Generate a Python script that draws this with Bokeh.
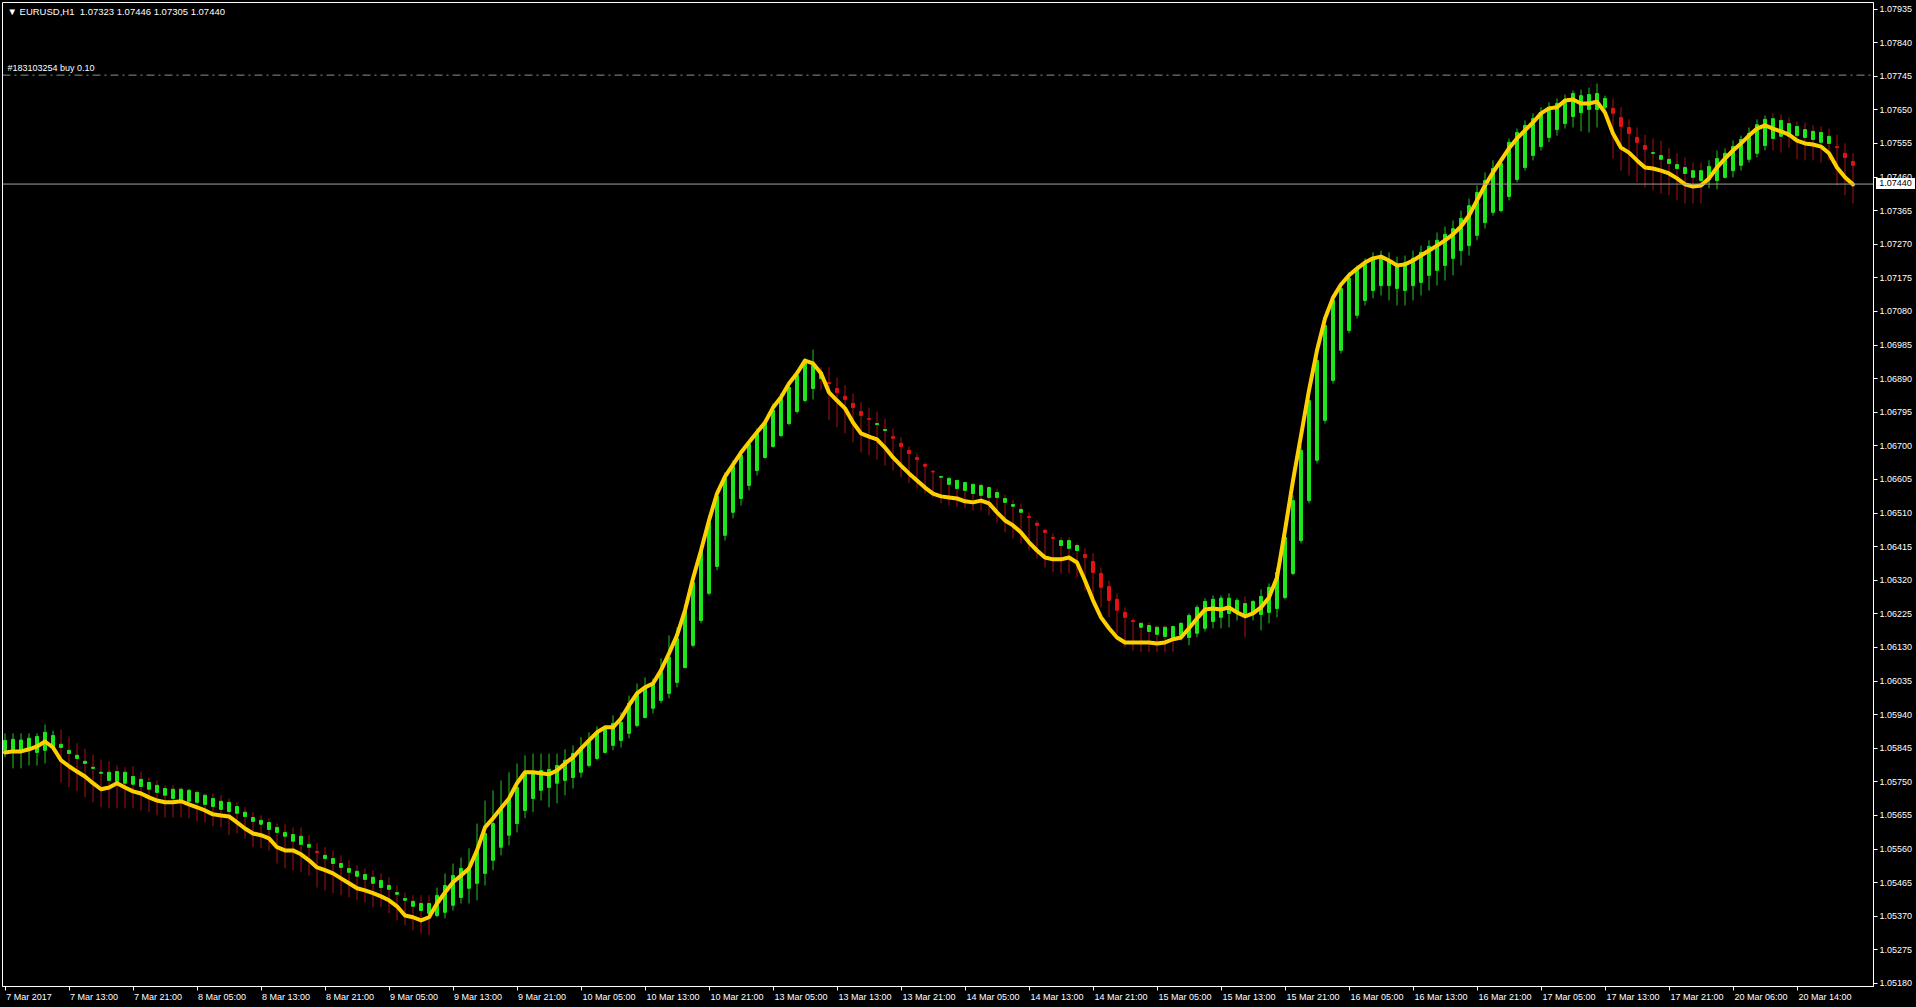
import numpy as np
from bokeh.plotting import figure
from bokeh.models import (ColumnDataSource, FixedTicker, Range1d, Label, Span, PrintfTickFormatter,
                          GlobalInlineStyleSheet, LinearAxis)
from bokeh.embed import file_html
from bokeh.resources import INLINE

# ---------------- data (prices in points, 1 point = 0.00001) ----------------
ha_open = [105839,105839,105839,105844,105833,105839,105847,105847,105830,105816,
105802,105788,105774,105754,105751,105746,105743,105737,105729,105720,
105712,105703,105700,105695,105692,105686,105680,105672,105666,105661,
105652,105638,105630,105615,105607,105596,105582,105573,105565,105553,
105533,105519,105508,105494,105483,105474,105463,105451,105446,105432,
105415,105398,105386,105378,105372,105381,105401,105423,105449,105463,
105491,105528,105565,105599,105632,105669,105703,105726,105734,105746,
105754,105762,105777,105796,105816,105833,105853,105867,105887,105909,
105932,105958,105980,106000,106031,106073,106136,106206,106283,106359,
106447,106512,106551,106588,106630,106667,106698,106729,106763,106797,
106828,106862,106890,106879,106862,106840,106820,106797,106777,106760,
106743,106726,106707,106687,106667,106647,106628,106611,106591,106579,
106574,106565,106560,106554,106554,106540,106529,106512,106500,106481,
106461,106441,106418,106410,106404,106393,106373,106339,106302,106266,
106229,106206,106187,106175,106167,106161,106158,106164,106158,106170,
106184,106203,106215,106226,106229,106226,106226,106223,106229,106240,
106271,106339,106432,106545,106659,106772,106885,106970,107026,107069,
107111,107139,107153,107153,107145,107139,107153,107162,107182,107196,
107210,107230,107252,107266,107295,107331,107360,107365,107405,107453,
107487,107521,107546,107572,107594,107611,107631,107642,107651,107651,
107657,107654,107628,107600,107572,107549,107527,107510,107498,107484,
107470,107459,107450,107453,107450,107459,107478,107493,107510,107527,
107549,107569,107575,107575,107577,107572,107566,107558,107555,107546,
107527,107504]
ha_high = [105887,105887,105887,105887,105887,105912,105895,105898,105878,105859,
105844,105827,105813,105808,105796,105791,105794,105779,105762,105754,
105740,105740,105734,105731,105726,105717,105717,105712,105703,105692,
105678,105664,105655,105647,105632,105630,105621,105621,105599,105576,
105565,105556,105542,105528,105514,105505,105500,105491,105480,105457,
105437,105429,105429,105429,105451,105491,105519,105536,105562,105632,
105697,105726,105754,105777,105802,105825,105830,105830,105830,105830,
105842,105853,105876,105890,105907,105909,105938,105946,105994,106028,
106045,106042,106099,106164,106187,106249,106328,106418,106503,106574,
106625,106659,106687,106715,106749,106772,106820,106848,106879,106913,
106947,106972,106922,106922,106893,106871,106848,106823,106808,106797,
106777,106749,106724,106698,106678,106653,106630,106616,106611,106605,
106599,106594,106594,106585,106579,106562,106548,106537,106512,106489,
106466,106452,106441,106441,106424,106410,106396,106356,106319,106283,
106243,106212,106201,106201,106192,106192,106192,106201,106226,106249,
106269,106277,106277,106283,106269,106274,106263,106294,106311,106356,
106452,106560,106701,106842,106955,107054,107122,107156,107190,107210,
107230,107247,107252,107247,107235,107238,107252,107266,107281,107303,
107320,107337,107365,107399,107436,107473,107507,107512,107569,107597,
107620,107640,107657,107671,107682,107693,107705,107707,107713,107724,
107690,107682,107657,107623,107600,107580,107569,107563,107543,107527,
107515,107501,107501,107507,107535,107541,107563,107577,107600,107623,
107634,107640,107637,107628,107617,107614,107606,107603,107597,107580,
107555,107527]
ha_low = [105819,105788,105788,105796,105796,105802,105839,105748,105734,105723,
105706,105692,105678,105675,105675,105675,105675,105669,105664,105655,
105649,105649,105649,105647,105638,105635,105624,105621,105599,105604,
105590,105565,105562,105556,105519,105505,105500,105494,105485,105451,
105443,105435,105429,105423,105415,105409,105395,105395,105378,105358,
105344,105330,105321,105316,105367,105364,105386,105406,105406,105415,
105457,105500,105542,105570,105607,105647,105664,105697,105678,105689,
105712,105731,105762,105791,105811,105830,105839,105847,105873,105904,
105929,105943,105972,105986,106017,106071,106130,106198,106277,106348,
106432,106495,106531,106574,106616,106664,106695,106724,106758,106791,
106823,106831,106857,106772,106752,106735,106710,106681,106673,106661,
106644,106630,106611,106594,106579,106565,106554,106537,106531,106526,
106523,106517,106517,106503,106483,106455,106438,106424,106404,106382,
106356,106342,106339,106339,106328,106291,106263,106243,106215,106170,
106130,106121,106116,106116,106116,106116,106116,106150,106136,106158,
106175,106184,106184,106187,106206,106158,106206,106178,106198,106215,
106266,106334,106424,106537,106650,106763,106876,106961,107018,107060,
107097,107117,107125,107111,107097,107097,107111,107125,107139,107153,
107167,107182,107210,107238,107281,107314,107351,107360,107394,107445,
107478,107507,107535,107558,107577,107597,107600,107589,107586,107600,
107640,107512,107478,107464,107445,107430,107422,107413,107408,107394,
107385,107385,107385,107428,107425,107456,107459,107478,107501,107515,
107535,107535,107529,107543,107510,107507,107507,107501,107507,107436,
107408,107385]
ha_close = [105867,105870,105868,105873,105878,105890,105881,105856,105839,105825,
105808,105791,105777,105777,105779,105777,105765,105757,105748,105740,
105731,105729,105729,105726,105720,105712,105703,105695,105692,105680,
105664,105649,105641,105635,105621,105607,105601,105596,105573,105550,
105542,105533,105519,105505,105497,105488,105480,105471,105457,105437,
105420,105412,105406,105406,105429,105457,105485,105505,105508,105556,
105604,105632,105675,105703,105734,105774,105774,105782,105785,105796,
105811,105830,105847,105867,105890,105904,105915,105918,105972,106000,
106017,106028,106059,106102,106155,106235,106314,106404,106483,106557,
106608,106642,106673,106704,106735,106766,106800,106834,106865,106899,
106933,106927,106907,106876,106851,106831,106808,106786,106775,106763,
106746,106721,106698,106678,106661,106642,106626,106613,106608,106602,
106596,106591,106588,106582,106568,106551,106534,106520,106497,106475,
106455,106438,106432,106432,106418,106384,106342,106300,106263,106235,
106215,106203,106198,106192,106187,106187,106189,106198,106220,106243,
106260,106266,106269,106269,106263,106254,106260,106274,106300,106342,
106441,106545,106687,106828,106941,107040,107111,107145,107173,107196,
107213,107227,107233,107224,107213,107218,107230,107247,107264,107281,
107298,107314,107343,107379,107416,107450,107484,107498,107558,107586,
107606,107625,107642,107657,107668,107679,107696,107690,107693,107696,
107682,107640,107603,107583,107558,107538,107529,107521,107510,107495,
107487,107478,107478,107490,107512,107527,107546,107566,107583,107608,
107623,107625,107620,107611,107603,107594,107589,107586,107575,107543,
107515,107493]
ma_line = [105833,105836,105836,105842,105850,105864,105847,105811,105794,105779,
105765,105746,105729,105734,105746,105734,105723,105717,105706,105697,
105692,105692,105695,105686,105678,105669,105658,105655,105652,105635,
105618,105604,105599,105590,105565,105556,105556,105545,105528,105508,
105500,105491,105477,105463,105449,105443,105435,105426,105415,105398,
105372,105367,105358,105367,105406,105437,105466,105485,105505,105556,
105621,105647,105675,105703,105746,105777,105777,105774,105771,105782,
105802,105819,105844,105867,105890,105904,105904,105929,105966,106000,
106017,106028,106065,106113,106164,106235,106325,106404,106489,106565,
106613,106647,106681,106710,106738,106766,106808,106837,106876,106905,
106941,106933,106905,106851,106828,106806,106766,106735,106726,106718,
106695,106667,106644,106622,106602,106582,106565,106557,106554,106551,
106543,106540,106545,106537,106512,106489,106475,106455,106427,106404,
106384,106379,106379,106384,106370,106319,106263,106215,106184,106158,
106144,106144,106144,106144,106141,106144,106153,106158,106184,106212,
106237,106240,106237,106243,106229,106218,106226,106243,106271,106328,
106461,106602,106729,106857,106970,107060,107119,107156,107182,107201,
107218,107230,107235,107224,107210,107213,107224,107238,107252,107266,
107281,107298,107320,107351,107394,107436,107473,107507,107541,107569,
107592,107614,107640,107654,107657,107676,107679,107668,107668,107673,
107642,107583,107543,107529,107507,107487,107484,107478,107470,107456,
107439,107433,107436,107456,107487,107512,107535,107555,107577,107597,
107606,107597,107589,107580,107563,107555,107552,107546,107527,107487,
107459,107439]
# shadow colour of each bar: runs of (trend, count)
shadow_runs = [("up", 7), ("down", 47), ("up", 48), ("down", 45), ("up", 8),
               ("down", 1), ("up", 45), ("down", 12), ("up", 8), ("down", 11)]
time_labels = ["7 Mar 2017", "7 Mar 13:00", "7 Mar 21:00", "8 Mar 05:00", "8 Mar 13:00",
               "8 Mar 21:00", "9 Mar 05:00", "9 Mar 13:00", "9 Mar 21:00", "10 Mar 05:00",
               "10 Mar 13:00", "10 Mar 21:00", "13 Mar 05:00", "13 Mar 13:00", "13 Mar 21:00",
               "14 Mar 05:00", "14 Mar 13:00", "14 Mar 21:00", "15 Mar 05:00", "15 Mar 13:00",
               "15 Mar 21:00", "16 Mar 05:00", "16 Mar 13:00", "16 Mar 21:00", "17 Mar 05:00",
               "17 Mar 13:00", "17 Mar 21:00", "20 Mar 06:00", "20 Mar 14:00"]
label_step = 8
price_ticks = [1.07935, 1.07840, 1.07745, 1.07650, 1.07555, 1.07460, 1.07365, 1.07270,
               1.07175, 1.07080, 1.06985, 1.06890, 1.06795, 1.06700, 1.06605, 1.06510,
               1.06415, 1.06320, 1.06225, 1.06130, 1.06035, 1.05940, 1.05845, 1.05750,
               1.05655, 1.05560, 1.05465, 1.05370, 1.05275, 1.05180]
last_price = 1.07440
order_price = 1.07748
header = "\u25bc EURUSD,H1\u00a0\u00a01.07323 1.07446 1.07305 1.07440"
order_text = "#183103254 buy 0.10"

# ---------------- build ----------------
o = np.array(ha_open) / 1e5
h = np.array(ha_high) / 1e5
l = np.array(ha_low) / 1e5
c = np.array(ha_close) / 1e5
m = np.array(ma_line) / 1e5
n = len(o)
idx = np.arange(n)
shadow = []
for t, k in shadow_runs:
    shadow += [t] * k
GREEN, RED = "#1fe51f", "#e01313"
WICK_G, WICK_R = "#23c323", "#a81010"
src = ColumnDataSource(dict(
    x=idx, o=o, h=h, l=l, c=c,
    top=np.maximum(o, c), bot=np.minimum(o, c),
    body=[GREEN if cc >= oo else RED for oo, cc in zip(o, c)],
    wick=[WICK_G if s == "up" else WICK_R for s in shadow],
))

W, H = 1916, 1007
px = 0.00095 / 33.6
y_hi = 1.07935 + 6.5 * px
y_lo = 1.07935 - 977.5 * px
x_lo = -0.3125
x_hi = x_lo + 1871 / 8

FONT = "Liberation Sans"
FS = "9px"

# current-price tag on the price scale (white box, black text)
tag_css = ("body::after{content:'1.07440';position:fixed;left:1876px;top:178px;width:39px;"
           "height:11px;background:#fff;color:#000;font:9px 'Liberation Sans';line-height:11px;"
           "text-align:center;}")

p = figure(width=W, height=H, x_range=Range1d(x_lo, x_hi), y_range=Range1d(y_lo, y_hi),
           output_backend="svg", toolbar_location=None, y_axis_location="right",
           background_fill_color="black", border_fill_color="black",
           min_border_left=2, min_border_top=2, min_border_right=43, min_border_bottom=21)
p.stylesheets = [GlobalInlineStyleSheet(
    css="html,body{margin:0;padding:0;background:#000;overflow:hidden}" + tag_css)]
p.outline_line_color = "white"
p.outline_line_width = 1
p.grid.visible = False

ya = p.yaxis[0]
ya.ticker = FixedTicker(ticks=price_ticks)
ya.formatter = PrintfTickFormatter(format="%.5f")
ya.axis_line_color = "white"
ya.major_tick_line_color = "white"
ya.major_tick_out = 4
ya.major_tick_in = 0
ya.minor_tick_line_color = None
ya.major_label_text_color = "white"
ya.major_label_text_font = FONT
ya.major_label_text_font_size = FS
ya.major_label_standoff = 2

# axis carrying the tick marks
tick_pos = [i * label_step for i in range(len(time_labels))]
xa = p.xaxis[0]
xa.ticker = FixedTicker(ticks=tick_pos)
xa.major_label_overrides = {t: "" for t in tick_pos}
xa.axis_line_color = "white"
xa.major_tick_line_color = "white"
xa.major_tick_out = 4
xa.major_tick_in = 0
xa.minor_tick_line_color = None
xa.major_label_text_font_size = "1px"
xa.major_label_standoff = 0

# axis carrying the labels, each starting just right of its tick
em = {" ": 0.278, "M": 0.833, "a": 0.556, "r": 0.333, ":": 0.278}
def text_w(s):
    return sum(em.get(ch, 0.556) for ch in s) * 9
lab_pos = [t + round(text_w(s) / 2 + 1) / 8 for t, s in zip(tick_pos, time_labels)]
xb = LinearAxis(ticker=FixedTicker(ticks=lab_pos))
xb.major_label_overrides = {pp: s for pp, s in zip(lab_pos, time_labels)}
xb.axis_line_color = None
xb.major_tick_line_color = None
xb.major_tick_out = 0
xb.major_tick_in = 0
xb.minor_tick_line_color = None
xb.major_label_text_color = "white"
xb.major_label_text_font = FONT
xb.major_label_text_font_size = FS
xb.major_label_standoff = 1
p.add_layout(xb, "below")

p.add_layout(Span(location=order_price, dimension="width", line_color="#7f9a7f",
                  line_width=1, line_dash="8 4 2 4"))
p.add_layout(Span(location=last_price, dimension="width", line_color="#a0a0a0", line_width=1))

p.segment(x0="x", y0="l", x1="x", y1="h", line_color="wick", line_width=1, source=src)
p.vbar(x="x", top="top", bottom="bot", width=0.375, fill_color="body", line_color="body",
       line_width=1, source=src)
p.line(idx, m, line_color="#ffd000", line_width=4, line_join="round", line_cap="round")

p.add_layout(Label(x=x_lo + 5 / 8, y=y_hi - 3 * px, text=header, text_color="white",
                   text_font=FONT, text_font_size="9.5px", text_baseline="top"))
p.add_layout(Label(x=x_lo + 5 / 8, y=order_price + 2 * px, text=order_text, text_color="white",
                   text_font=FONT, text_font_size=FS, text_baseline="bottom"))

open("out.html", "w").write(file_html(p, INLINE))
